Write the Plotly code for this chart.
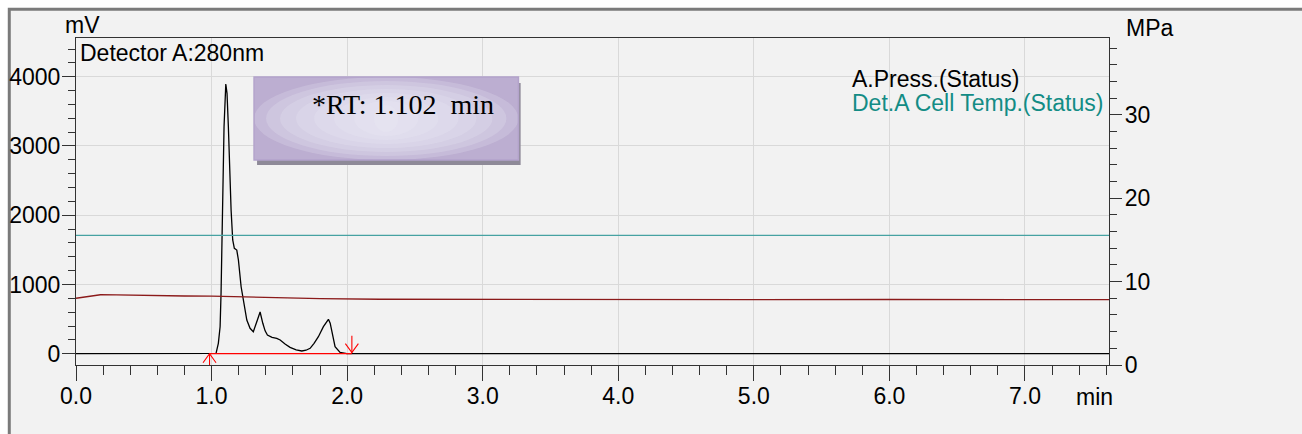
import plotly.graph_objects as go

# ---------------- data ----------------
time_min = [0.0, 0.985, 1.033, 1.050, 1.063, 1.070, 1.075, 1.083, 1.092, 1.105,
            1.114, 1.124, 1.134, 1.144, 1.156, 1.168, 1.186, 1.198, 1.218, 1.240,
            1.260, 1.284, 1.308, 1.338, 1.358, 1.378, 1.395, 1.412, 1.446, 1.481,
            1.506, 1.542, 1.579, 1.624, 1.666, 1.697, 1.727, 1.756, 1.788, 1.825,
            1.845, 1.862, 1.875, 1.887, 1.911, 1.948, 1.998, 7.62]
signal_mv = [0, 0, 5, 150, 390, 875, 1353, 2316, 3278, 3895,
             3760, 3278, 2652, 2075, 1642, 1522, 1497, 1353, 967, 679,
             487, 367, 318, 487, 602, 439, 330, 270, 235, 222,
             198, 140, 92, 55, 39, 50, 78, 150, 246, 390,
             460, 497, 440, 342, 101, 20, 0, 0]

press_time = [0.0, 0.1, 0.18, 0.3, 0.55, 0.8, 1.0, 1.2, 1.5, 1.8, 2.24, 3.0, 4.0, 5.0, 6.0, 7.0, 7.62]
press_mpa = [8.0, 8.25, 8.42, 8.4, 8.3, 8.27, 8.25, 8.17, 8.0, 7.95, 7.88, 7.85, 7.85, 7.84, 7.85, 7.84, 7.83]

temp_time = [0.0, 7.62]
temp_status = [15.55, 15.55]

integ_start = 0.985
integ_end = 2.035

x_range = [0, 7.62]
mv_range = [-163, 4559]
mpa_range = [0, 39.2]

rt_label = "*RT: 1.102\u00a0\u00a0min"
detector_label = "Detector A:280nm"
legend_labels = ["A.Press.(Status)", "Det.A Cell Temp.(Status)"]

# ---------------- geometry helpers (pixels -> paper) ----------------
W, H = 1302, 434
ML, MR, MT, MB = 76, 193.3, 38, 69
PW = W - ML - MR
PH = H - MT - MB


def px(x):
    return (x - ML) / PW


def py(y):
    return (H - MB - y) / PH


SANS = "Liberation Sans, Arial, sans-serif"
SERIF = "Liberation Serif, Times New Roman, serif"
FS = 23

fig = go.Figure()

# status traces on right axis
fig.add_trace(go.Scatter(x=temp_time, y=temp_status, yaxis="y2", mode="lines",
                         line=dict(color="#46a2a2", width=1.2), hoverinfo="skip"))
fig.add_trace(go.Scatter(x=press_time, y=press_mpa, yaxis="y2", mode="lines",
                         line=dict(color="#8b1a1a", width=1.3), hoverinfo="skip"))

# chromatogram
fig.add_trace(go.Scatter(x=time_min, y=signal_mv, mode="lines",
                         line=dict(color="#000000", width=1.3), hoverinfo="skip"))

# integration baseline
fig.add_trace(go.Scatter(x=[integ_start, integ_end], y=[0, 0], mode="lines",
                         line=dict(color="#ff0000", width=1.2), hoverinfo="skip"))

# integration markers (arrows)
dx = 6.5 / PW * (x_range[1] - x_range[0])
mv_per_px = (mv_range[1] - mv_range[0]) / PH
up_x = [integ_start - dx, integ_start, integ_start + dx, None, integ_start, integ_start]
up_y = [-9 * mv_per_px, 0, -9 * mv_per_px, None, 0, mv_range[0]]
dn_x = [integ_end - dx, integ_end, integ_end + dx, None, integ_end, integ_end]
dn_y = [9 * mv_per_px + 15, 15, 9 * mv_per_px + 15, None, 15, 17 * mv_per_px + 15]
fig.add_trace(go.Scatter(x=up_x + [None] + dn_x, y=up_y + [None] + dn_y, mode="lines",
                         line=dict(color="#ff0000", width=1.1), hoverinfo="skip"))

shapes = []
# outer panel
shapes.append(dict(type="rect", xref="paper", yref="paper", layer="below",
                   x0=px(9.3), x1=px(1330), y0=py(9.3), y1=py(460),
                   fillcolor="#f2f2f2", line=dict(color="#7a7a7a", width=3)))
# RT box shadow
shapes.append(dict(type="rect", xref="paper", yref="paper", layer="above",
                   x0=px(257), x1=px(520.5), y0=py(83), y1=py(165),
                   fillcolor="#8e8a98", line=dict(width=0)))
# RT box
shapes.append(dict(type="rect", xref="paper", yref="paper", layer="above",
                   x0=px(254), x1=px(518.3), y0=py(77), y1=py(160),
                   fillcolor="#bcaed1", line=dict(width=0)))
# soft gradient glow (nested ellipses inside the box)
glow = [(0, 0), (12, 4), (26, 8), (42, 12), (60, 16), (80, 20), (100, 24), (120, 28)]
for inset_x, inset_y in glow:
    shapes.append(dict(type="circle", xref="paper", yref="paper", layer="above",
                       x0=px(254 + inset_x), x1=px(518.3 - inset_x),
                       y0=py(77 + inset_y), y1=py(160 - inset_y),
                       fillcolor="#efebf5", opacity=0.22, line=dict(width=0)))
# box border
shapes.append(dict(type="rect", xref="paper", yref="paper", layer="above",
                   x0=px(254), x1=px(518.3), y0=py(77), y1=py(160),
                   fillcolor="rgba(0,0,0,0)", line=dict(color="#b3a3cb", width=1.5)))

annotations = []


def text(s, xl, base, size=FS, color="#000000", family=SANS, anchor="left"):
    annotations.append(dict(text=s, xref="paper", yref="paper", x=px(xl),
                            y=py(base - 0.22 * size), xanchor=anchor, yanchor="middle",
                            showarrow=False, font=dict(family=family, size=size, color=color)))


text("mV", 63, 30)
text("MPa", 1124, 33)
text("min", 1074, 402)
text(detector_label, 78, 58.3)
text(legend_labels[0], 850, 84)
text(legend_labels[1], 850, 107.7, color="#138c85")
text(rt_label, 310, 111, size=28, family=SERIF)

fig.update_layout(
    width=W, height=H,
    margin=dict(l=ML, r=MR, t=MT, b=MB, autoexpand=False),
    paper_bgcolor="#ffffff",
    plot_bgcolor="rgba(0,0,0,0)",
    showlegend=False,
    shapes=shapes,
    annotations=annotations,
    font=dict(family=SANS, size=FS, color="#000000"),
    xaxis=dict(range=x_range, tick0=0, dtick=1, tickformat=".1f", automargin=False,
               ticks="outside", ticklen=15, tickcolor="#333333", tickwidth=1,
               ticklabelstandoff=-5,
               minor=dict(dtick=0.2, ticklen=9, tickcolor="#333333", ticks="outside", showgrid=False),
               showgrid=True, gridcolor="#d9d9d9", gridwidth=1, zeroline=False,
               showline=True, linecolor="#333333", linewidth=1.2, mirror=True,
               tickfont=dict(family=SANS, size=FS, color="#000000")),
    yaxis=dict(range=mv_range, tick0=0, dtick=1000, tickformat="d", automargin=False,
               ticks="outside", ticklen=13, tickcolor="#333333", tickwidth=1,
               ticklabelstandoff=-3,
               minor=dict(dtick=200, ticklen=7, tickcolor="#333333", ticks="outside", showgrid=False),
               showgrid=True, gridcolor="#d9d9d9", gridwidth=1, zeroline=False,
               showline=True, linecolor="#333333", linewidth=1.2, mirror=True,
               tickfont=dict(family=SANS, size=FS, color="#000000")),
    yaxis2=dict(range=mpa_range, overlaying="y", side="right", tick0=0, dtick=10,
                automargin=False, ticklabelstandoff=-2,
                ticks="outside", ticklen=12, tickcolor="#333333", tickwidth=1,
                minor=dict(dtick=2, ticklen=7, tickcolor="#333333", ticks="outside", showgrid=False),
                showgrid=False, zeroline=False, showline=True, linecolor="#333333", linewidth=1.2,
                tickfont=dict(family=SANS, size=FS, color="#000000")),
)

fig.write_html("out.html")
